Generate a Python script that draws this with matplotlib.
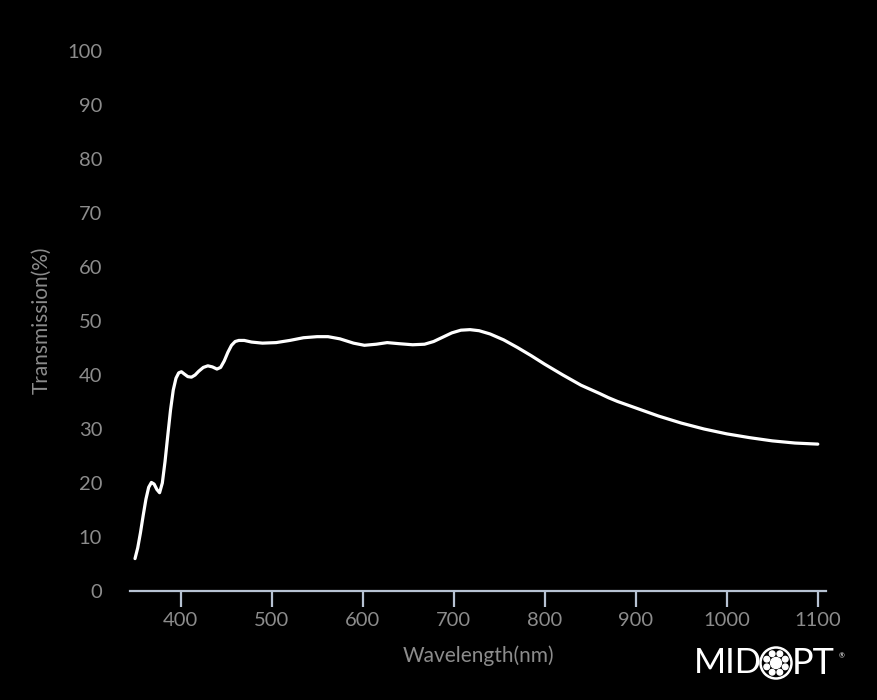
import matplotlib
matplotlib.use("Agg")
import matplotlib.pyplot as plt
from matplotlib.patches import Circle
import numpy as np

# transmission curve
wavelength = [350, 353, 356, 359, 362, 365, 368, 371, 374, 377, 380, 383, 386, 389,
              392, 395, 398, 401, 404, 408, 412, 416, 420, 425, 430, 435, 440, 444,
              448, 452, 456, 460, 464, 470, 478, 490, 505, 520, 535, 550, 562, 575,
              590, 602, 615, 627, 640, 655, 668, 678, 688, 698, 708, 718, 728, 740,
              755, 770, 785, 800, 820, 840, 860, 870, 880, 900, 925, 950, 975, 1000,
              1025, 1050, 1075, 1100]
transmission = [6.0, 8.0, 10.8, 14.0, 17.0, 19.2, 20.1, 19.8, 18.8, 18.2, 20.0, 24.0,
                28.8, 33.5, 37.2, 39.4, 40.4, 40.6, 40.2, 39.7, 39.6, 40.0, 40.7, 41.4,
                41.7, 41.5, 41.1, 41.4, 42.6, 44.2, 45.5, 46.2, 46.4, 46.4, 46.1, 45.9,
                46.0, 46.4, 46.9, 47.1, 47.1, 46.7, 45.9, 45.5, 45.7, 46.0, 45.8, 45.6,
                45.7, 46.2, 47.0, 47.8, 48.3, 48.4, 48.2, 47.6, 46.5, 45.1, 43.6, 42.0,
                40.0, 38.1, 36.6, 35.8, 35.1, 33.9, 32.4, 31.1, 30.0, 29.1, 28.4, 27.8,
                27.4, 27.2]

x_ticks = [400, 500, 600, 700, 800, 900, 1000, 1100]
y_ticks = [0, 10, 20, 30, 40, 50, 60, 70, 80, 90, 100]

TICK_COLOR = "#8c8c8c"
AXIS_COLOR = "#b7c3d3"

plt.rcParams["font.family"] = ["Lato", "DejaVu Sans"]

fig = plt.figure(figsize=(8.78, 7.0), dpi=100, facecolor="black")
ax = fig.add_axes([130 / 878, 109 / 700, 696 / 878, 540 / 700], facecolor="black")

ax.plot(wavelength, transmission, color="white", lw=2.3,
        solid_capstyle="round", solid_joinstyle="round")

ax.set_xlim(344.5, 1109)
ax.set_ylim(0, 100)
ax.set_xticks(x_ticks)
ax.set_yticks(y_ticks)

for side in ["top", "right", "left"]:
    ax.spines[side].set_visible(False)
ax.spines["bottom"].set_color(AXIS_COLOR)
ax.spines["bottom"].set_linewidth(1.6)

ax.tick_params(axis="x", colors=AXIS_COLOR, length=11.5, width=1.6, labelsize=14.5,
               labelcolor=TICK_COLOR, pad=3.5)
ax.tick_params(axis="y", length=0, labelsize=14.5, labelcolor=TICK_COLOR, pad=20)

ax.set_xlabel("Wavelength(nm)", color=TICK_COLOR, fontsize=15, va="center")
ax.set_ylabel("Transmission(%)", color=TICK_COLOR, fontsize=15, va="center")
ax.xaxis.set_label_coords(0.5, (591 - 656) / 540)
ax.yaxis.set_label_coords((42 - 130) / 696, (591 - 320) / 540)

# MIDOPT logo, bottom right
logo_y = 700 - 663
fig.text(694 / 878, logo_y / 700, "MID", color="white", fontsize=25,
         va="center", ha="left")
fig.patches.append(Circle((776, logo_y), 15.5, transform=None, facecolor="none",
                          edgecolor="white", lw=1.8))
fig.patches.append(Circle((776, logo_y), 5.5, transform=None, color="white"))
for ang in np.arange(22.5, 360, 45):
    a = np.deg2rad(ang)
    fig.patches.append(Circle((776 + 10 * np.cos(a), logo_y + 10 * np.sin(a)),
                              2.8, transform=None, color="white"))
fig.text(792 / 878, logo_y / 700, "PT", color="white", fontsize=26,
         va="center", ha="left")
fig.text(839 / 878, (700 - 656) / 700, "®", color="white", fontsize=5,
         va="center", ha="left")

fig.savefig("out.png", dpi=100, facecolor="black")
